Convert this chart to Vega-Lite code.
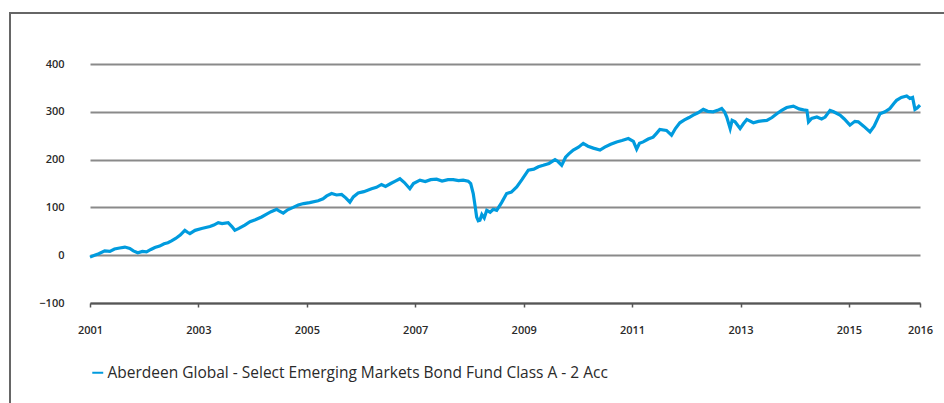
{
  "$schema": "https://vega.github.io/schema/vega-lite/v6.json",
  "width": 944,
  "height": 400,
  "autosize": {"type": "none"},
  "padding": {"left": 10, "top": 13, "right": -10, "bottom": -10},
  "background": "white",
  "config": {"view": {"stroke": "#666666", "strokeWidth": 2}, "font": "Open Sans"},
  "data": {"values": [
    {"date": "2001-01-01", "value": -4}, {"date": "2001-02-01", "value": 0}, {"date": "2001-03-01", "value": 3},
    {"date": "2001-04-10", "value": 9}, {"date": "2001-05-15", "value": 8}, {"date": "2001-06-15", "value": 13},
    {"date": "2001-07-20", "value": 15}, {"date": "2001-08-24", "value": 17}, {"date": "2001-09-26", "value": 14},
    {"date": "2001-10-20", "value": 9}, {"date": "2001-11-19", "value": 5}, {"date": "2001-12-20", "value": 8},
    {"date": "2002-01-17", "value": 7}, {"date": "2002-02-15", "value": 12}, {"date": "2002-03-14", "value": 16},
    {"date": "2002-04-15", "value": 19}, {"date": "2002-05-15", "value": 24}, {"date": "2002-06-10", "value": 26},
    {"date": "2002-07-04", "value": 30}, {"date": "2002-08-01", "value": 35}, {"date": "2002-09-01", "value": 42},
    {"date": "2002-10-02", "value": 52}, {"date": "2002-10-20", "value": 48}, {"date": "2002-11-05", "value": 45},
    {"date": "2002-12-10", "value": 52}, {"date": "2003-01-23", "value": 56}, {"date": "2003-02-20", "value": 58},
    {"date": "2003-03-20", "value": 60}, {"date": "2003-04-15", "value": 63}, {"date": "2003-05-15", "value": 68},
    {"date": "2003-06-10", "value": 66}, {"date": "2003-07-21", "value": 68}, {"date": "2003-08-15", "value": 60},
    {"date": "2003-09-04", "value": 52}, {"date": "2003-10-01", "value": 56}, {"date": "2003-11-10", "value": 63},
    {"date": "2003-12-15", "value": 70}, {"date": "2004-01-20", "value": 74}, {"date": "2004-03-02", "value": 80},
    {"date": "2004-04-05", "value": 86}, {"date": "2004-05-05", "value": 91}, {"date": "2004-06-12", "value": 96},
    {"date": "2004-07-01", "value": 92}, {"date": "2004-07-26", "value": 88}, {"date": "2004-08-25", "value": 95},
    {"date": "2004-10-01", "value": 100}, {"date": "2004-11-04", "value": 105}, {"date": "2004-12-10", "value": 108},
    {"date": "2005-01-20", "value": 110}, {"date": "2005-03-18", "value": 114}, {"date": "2005-04-20", "value": 118},
    {"date": "2005-05-15", "value": 124}, {"date": "2005-06-17", "value": 129}, {"date": "2005-07-20", "value": 126},
    {"date": "2005-08-23", "value": 127}, {"date": "2005-09-20", "value": 120}, {"date": "2005-10-18", "value": 111},
    {"date": "2005-11-10", "value": 122}, {"date": "2005-12-13", "value": 130}, {"date": "2006-01-20", "value": 133},
    {"date": "2006-03-13", "value": 139}, {"date": "2006-04-15", "value": 142}, {"date": "2006-05-19", "value": 148},
    {"date": "2006-06-15", "value": 144}, {"date": "2006-07-20", "value": 150}, {"date": "2006-08-20", "value": 155},
    {"date": "2006-09-20", "value": 160}, {"date": "2006-10-20", "value": 152}, {"date": "2006-11-26", "value": 139},
    {"date": "2006-12-20", "value": 150}, {"date": "2007-02-02", "value": 157}, {"date": "2007-03-10", "value": 154},
    {"date": "2007-04-15", "value": 158}, {"date": "2007-05-25", "value": 159}, {"date": "2007-07-01", "value": 155},
    {"date": "2007-08-10", "value": 158}, {"date": "2007-09-14", "value": 158}, {"date": "2007-10-20", "value": 156},
    {"date": "2007-11-20", "value": 157}, {"date": "2007-12-24", "value": 155}, {"date": "2008-01-10", "value": 150},
    {"date": "2008-01-27", "value": 129}, {"date": "2008-02-10", "value": 100}, {"date": "2008-02-19", "value": 80},
    {"date": "2008-03-01", "value": 72}, {"date": "2008-03-12", "value": 73}, {"date": "2008-03-25", "value": 85},
    {"date": "2008-04-10", "value": 78}, {"date": "2008-04-27", "value": 94}, {"date": "2008-05-20", "value": 90},
    {"date": "2008-06-10", "value": 96}, {"date": "2008-07-03", "value": 94}, {"date": "2008-08-05", "value": 110},
    {"date": "2008-09-08", "value": 129}, {"date": "2008-10-10", "value": 132}, {"date": "2008-11-15", "value": 143},
    {"date": "2008-12-20", "value": 158}, {"date": "2009-02-01", "value": 178}, {"date": "2009-03-10", "value": 180},
    {"date": "2009-04-10", "value": 185}, {"date": "2009-05-13", "value": 188}, {"date": "2009-06-20", "value": 192},
    {"date": "2009-07-31", "value": 200}, {"date": "2009-08-20", "value": 196}, {"date": "2009-09-14", "value": 188},
    {"date": "2009-10-10", "value": 205}, {"date": "2009-11-01", "value": 212}, {"date": "2009-12-01", "value": 220},
    {"date": "2010-01-05", "value": 226}, {"date": "2010-02-06", "value": 234}, {"date": "2010-03-10", "value": 228},
    {"date": "2010-04-15", "value": 224}, {"date": "2010-05-30", "value": 220}, {"date": "2010-07-01", "value": 226},
    {"date": "2010-08-10", "value": 232}, {"date": "2010-09-19", "value": 237}, {"date": "2010-10-25", "value": 240},
    {"date": "2010-12-07", "value": 244}, {"date": "2011-01-10", "value": 238}, {"date": "2011-02-01", "value": 222},
    {"date": "2011-02-20", "value": 234}, {"date": "2011-03-17", "value": 237}, {"date": "2011-04-20", "value": 243},
    {"date": "2011-05-23", "value": 247}, {"date": "2011-06-15", "value": 255}, {"date": "2011-07-07", "value": 263},
    {"date": "2011-08-21", "value": 261}, {"date": "2011-09-24", "value": 251}, {"date": "2011-10-20", "value": 265},
    {"date": "2011-11-19", "value": 277}, {"date": "2011-12-20", "value": 283}, {"date": "2012-01-20", "value": 288},
    {"date": "2012-02-17", "value": 293}, {"date": "2012-03-20", "value": 298}, {"date": "2012-04-25", "value": 305},
    {"date": "2012-05-25", "value": 301}, {"date": "2012-07-01", "value": 300}, {"date": "2012-07-30", "value": 303},
    {"date": "2012-08-27", "value": 307}, {"date": "2012-09-15", "value": 300}, {"date": "2012-09-30", "value": 289},
    {"date": "2012-10-23", "value": 265}, {"date": "2012-11-05", "value": 282}, {"date": "2012-11-25", "value": 279},
    {"date": "2012-12-29", "value": 265}, {"date": "2013-01-20", "value": 275}, {"date": "2013-02-12", "value": 284},
    {"date": "2013-03-28", "value": 277}, {"date": "2013-05-01", "value": 280}, {"date": "2013-06-27", "value": 282},
    {"date": "2013-08-01", "value": 288}, {"date": "2013-09-02", "value": 296}, {"date": "2013-10-05", "value": 303},
    {"date": "2013-11-08", "value": 309}, {"date": "2013-12-23", "value": 312}, {"date": "2014-01-30", "value": 306},
    {"date": "2014-03-01", "value": 304}, {"date": "2014-03-24", "value": 303}, {"date": "2014-04-04", "value": 279},
    {"date": "2014-04-25", "value": 286}, {"date": "2014-05-30", "value": 289}, {"date": "2014-07-01", "value": 285},
    {"date": "2014-07-25", "value": 289}, {"date": "2014-08-27", "value": 303}, {"date": "2014-09-20", "value": 300},
    {"date": "2014-11-02", "value": 293}, {"date": "2014-12-01", "value": 285}, {"date": "2015-01-08", "value": 272},
    {"date": "2015-02-10", "value": 280}, {"date": "2015-03-05", "value": 279}, {"date": "2015-04-10", "value": 270},
    {"date": "2015-05-23", "value": 258}, {"date": "2015-06-20", "value": 270}, {"date": "2015-07-29", "value": 296},
    {"date": "2015-09-01", "value": 300}, {"date": "2015-10-04", "value": 307}, {"date": "2015-11-01", "value": 318},
    {"date": "2015-11-18", "value": 324}, {"date": "2015-12-20", "value": 330}, {"date": "2016-01-25", "value": 333},
    {"date": "2016-02-16", "value": 328}, {"date": "2016-03-05", "value": 330}, {"date": "2016-03-21", "value": 305},
    {"date": "2016-04-05", "value": 308}, {"date": "2016-04-24", "value": 314}
  ]},
  "mark": {"type": "line", "strokeWidth": 3.2},
  "encoding": {
    "x": {
      "field": "date", "type": "temporal",
      "scale": {"domain": [{"year": 2001, "month": 1, "date": 1}, {"year": 2016, "month": 4, "date": 24}], "range": [80, 910]},
      "axis": {
        "title": null,
        "values": [{"year": 2001, "month": 1, "date": 1}, {"year": 2003, "month": 1, "date": 1}, {"year": 2005, "month": 1, "date": 1}, {"year": 2007, "month": 1, "date": 1}, {"year": 2009, "month": 1, "date": 1}, {"year": 2011, "month": 1, "date": 1}, {"year": 2013, "month": 1, "date": 1}, {"year": 2015, "month": 1, "date": 1}, {"year": 2016, "month": 4, "date": 24}],
        "format": "%Y", "labelFlush": false, "labelOverlap": false, "grid": false,
        "offset": -110, "domainColor": "#555555", "domainWidth": 2,
        "tickColor": "#555555", "tickWidth": 1.5, "tickSize": 4,
        "labelPadding": 17, "labelFontSize": 11, "labelFontWeight": 600, "labelColor": "#2a2a2a"
      }
    },
    "y": {
      "field": "value", "type": "quantitative",
      "scale": {"domain": [-100, 400], "range": [290, 51], "nice": false, "zero": false},
      "axis": {
        "title": null, "values": [-100, 0, 100, 200, 300, 400],
        "domain": false, "ticks": false, "tickSize": 0, "offset": -58, "labelPadding": 4,
        "gridColor": "#8a8a8a", "gridWidth": 2, "labelFontSize": 11, "labelFontWeight": 600, "labelColor": "#2a2a2a"
      }
    },
    "color": {
      "datum": "Aberdeen Global - Select Emerging Markets Bond Fund Class A - 2 Acc",
      "type": "nominal",
      "scale": {"range": ["#009bde"]},
      "legend": {
        "title": null, "orient": "none", "legendX": 80, "legendY": 352,
        "symbolType": "stroke", "symbolSize": 120, "symbolStrokeWidth": 2,
        "labelFontSize": 15.5, "labelLimit": 900, "labelColor": "#2a2a2a", "labelOffset": 2
      }
    }
  }
}
